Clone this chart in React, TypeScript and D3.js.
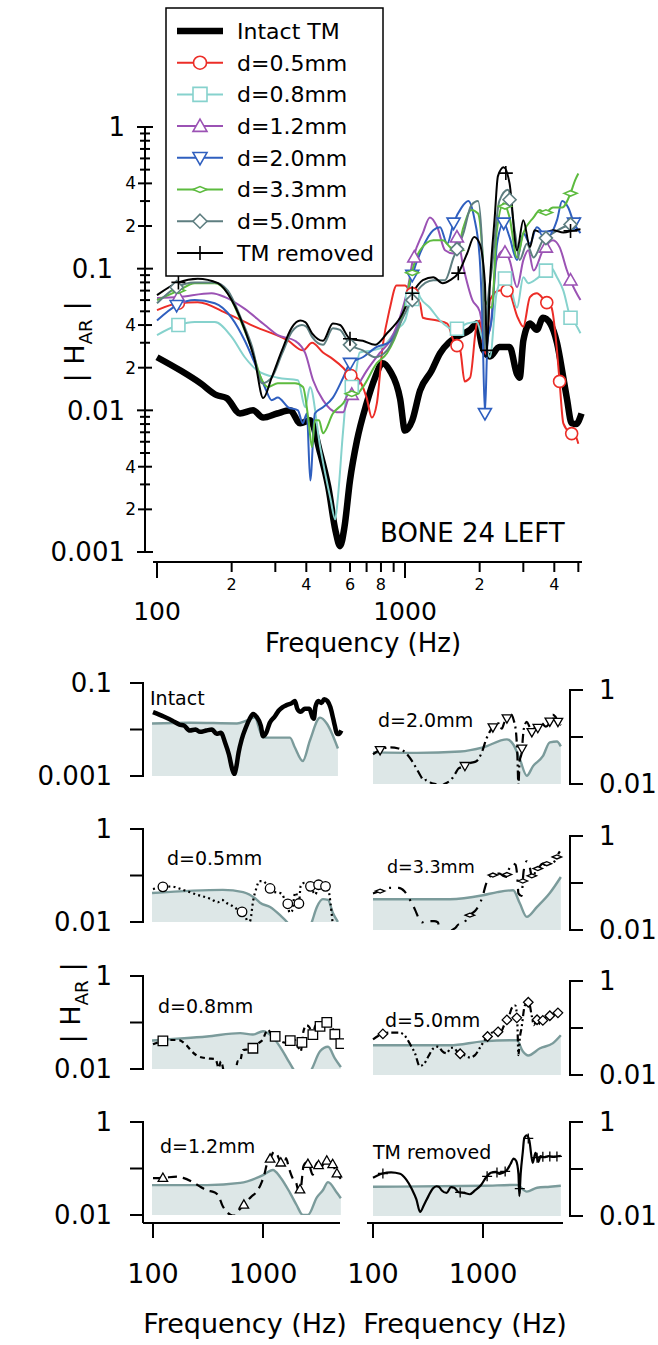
import { useEffect, useRef } from "react";
import * as d3 from "d3";

type Pt = [number, number];

// traces: [frequency (Hz), |H_AR|]
const intactTM: Pt[] = [
  [100, 0.0237], [125, 0.019], [150, 0.0155], [174, 0.0128], [191, 0.0122], [216, 0.0095],
  [244, 0.01], [268, 0.0089], [305, 0.0095], [344, 0.01], [378, 0.0081], [414, 0.0085],
  [455, 0.005], [490, 0.0029], [525, 0.0014], [547, 0.0011], [570, 0.0015], [600, 0.0032],
  [640, 0.0061], [700, 0.0112], [757, 0.017], [812, 0.0215], [870, 0.019], [956, 0.012],
  [1000, 0.0072], [1070, 0.0085], [1150, 0.0138], [1280, 0.019], [1385, 0.0253], [1500, 0.03],
  [1620, 0.033], [1830, 0.037], [1950, 0.041], [2050, 0.028], [2200, 0.024], [2400, 0.028],
  [2640, 0.028], [2830, 0.018], [2900, 0.017], [3000, 0.031], [3190, 0.041], [3400, 0.037],
  [3600, 0.045], [3850, 0.041], [4100, 0.03], [4350, 0.017], [4500, 0.012], [4700, 0.0081],
  [4900, 0.008], [5150, 0.0095],
];

const d05: Pt[] = [
  [100, 0.051], [122, 0.057], [146, 0.058], [193, 0.048], [248, 0.039], [338, 0.031],
  [388, 0.0265], [422, 0.03], [467, 0.0256], [512, 0.023], [563, 0.02], [600, 0.0177],
  [640, 0.017], [700, 0.0123], [735, 0.0089], [770, 0.0112], [812, 0.028], [870, 0.053],
  [925, 0.076], [1000, 0.076], [1046, 0.07], [1150, 0.057], [1180, 0.045], [1350, 0.043],
  [1480, 0.041], [1570, 0.031], [1670, 0.0265], [1740, 0.016], [1830, 0.017], [1950, 0.041],
  [2000, 0.043], [2060, 0.03], [2120, 0.025], [2200, 0.06], [2400, 0.07], [2600, 0.07],
  [2850, 0.045], [3000, 0.039], [3190, 0.063], [3400, 0.067], [3650, 0.06], [3900, 0.053],
  [4100, 0.0265], [4200, 0.016], [4350, 0.0081], [4650, 0.0069], [4850, 0.0067], [5000, 0.0058],
];

const d08: Pt[] = [
  [100, 0.034], [122, 0.04], [142, 0.042], [171, 0.042], [200, 0.033], [226, 0.0237],
  [255, 0.019], [307, 0.017], [370, 0.0163], [396, 0.0105], [414, 0.0146], [455, 0.0055],
  [500, 0.0024], [523, 0.0017], [536, 0.0024], [563, 0.0072], [588, 0.0146], [617, 0.0146],
  [657, 0.0256], [740, 0.0265], [812, 0.028], [925, 0.037], [1000, 0.043], [1046, 0.057],
  [1120, 0.07], [1150, 0.063], [1260, 0.053], [1385, 0.043], [1590, 0.037], [1780, 0.041],
  [1950, 0.042], [2040, 0.033], [2140, 0.0265], [2200, 0.0237], [2340, 0.067], [2500, 0.087],
  [2640, 0.079], [2830, 0.053], [3000, 0.087], [3140, 0.079], [3400, 0.085], [3850, 0.103],
  [4100, 0.087], [4350, 0.07], [4650, 0.045], [4850, 0.041], [5100, 0.035],
];

const d12: Pt[] = [
  [100, 0.062], [122, 0.063], [166, 0.067], [188, 0.063], [226, 0.052], [272, 0.04],
  [307, 0.034], [360, 0.031], [396, 0.0253], [426, 0.0163], [467, 0.0118], [530, 0.0097],
  [563, 0.0097], [588, 0.0118], [640, 0.0146], [700, 0.019], [790, 0.0253], [870, 0.031],
  [980, 0.053], [1030, 0.075], [1070, 0.11], [1180, 0.178], [1260, 0.23], [1350, 0.196],
  [1450, 0.135], [1570, 0.128], [1620, 0.167], [1720, 0.102], [1870, 0.06], [2000, 0.05],
  [2100, 0.033], [2200, 0.037], [2340, 0.115], [2500, 0.135], [2640, 0.115], [2830, 0.074],
  [3000, 0.115], [3140, 0.135], [3300, 0.097], [3600, 0.135], [3950, 0.159], [4200, 0.142],
  [4500, 0.097], [4700, 0.079], [5100, 0.06],
];

const d20: Pt[] = [
  [100, 0.043], [120, 0.055], [142, 0.06], [171, 0.057], [200, 0.045], [226, 0.031],
  [248, 0.0215], [272, 0.0146], [290, 0.0118], [307, 0.0123], [338, 0.0105], [370, 0.01],
  [387, 0.0081], [402, 0.0095], [415, 0.0032], [433, 0.0095], [467, 0.0105], [512, 0.0123],
  [563, 0.017], [600, 0.0215], [676, 0.0237], [770, 0.028], [870, 0.0305], [980, 0.0485],
  [1070, 0.09], [1180, 0.142], [1300, 0.187], [1385, 0.196], [1480, 0.15], [1570, 0.21],
  [1690, 0.27], [1800, 0.3], [1900, 0.23], [2000, 0.12], [2050, 0.045], [2100, 0.0095],
  [2150, 0.03], [2240, 0.045], [2350, 0.15], [2500, 0.21], [2640, 0.167], [2830, 0.115],
  [3000, 0.178], [3190, 0.15], [3400, 0.196], [3730, 0.167], [4100, 0.22], [4300, 0.3],
  [4550, 0.27], [4800, 0.21], [5100, 0.178],
];

const d33: Pt[] = [
  [100, 0.06], [122, 0.07], [142, 0.079], [171, 0.079], [193, 0.067], [220, 0.041],
  [242, 0.0265], [265, 0.0163], [280, 0.0146], [307, 0.0155], [360, 0.0155], [388, 0.0146],
  [407, 0.0089], [422, 0.0055], [433, 0.0085], [450, 0.0085], [467, 0.0069], [512, 0.0095],
  [563, 0.0112], [600, 0.0131], [640, 0.0131], [676, 0.0146], [770, 0.0215], [846, 0.0253],
  [956, 0.041], [1000, 0.055], [1050, 0.085], [1150, 0.135], [1300, 0.159], [1420, 0.159],
  [1520, 0.142], [1620, 0.135], [1720, 0.196], [1850, 0.26], [1970, 0.245], [2050, 0.135],
  [2100, 0.06], [2240, 0.053], [2340, 0.178], [2500, 0.29], [2640, 0.23], [2830, 0.12],
  [3000, 0.178], [3300, 0.23], [3500, 0.26], [3650, 0.245], [3950, 0.27], [4300, 0.27],
  [4650, 0.34], [4850, 0.42], [5000, 0.47],
];

const d50: Pt[] = [
  [100, 0.057], [120, 0.074], [142, 0.08], [171, 0.08], [193, 0.07], [220, 0.043],
  [242, 0.028], [265, 0.0155], [290, 0.017], [319, 0.025], [350, 0.036], [384, 0.04],
  [400, 0.039], [422, 0.033], [467, 0.029], [512, 0.038], [547, 0.037], [600, 0.029],
  [676, 0.0265], [757, 0.0237], [846, 0.0265], [956, 0.041], [1120, 0.07], [1300, 0.083],
  [1450, 0.083], [1570, 0.12], [1720, 0.178], [1850, 0.28], [1970, 0.3], [2050, 0.135],
  [2100, 0.0265], [2160, 0.06], [2240, 0.1], [2400, 0.3], [2600, 0.36], [2780, 0.178],
  [2900, 0.115], [3100, 0.15], [3300, 0.12], [3600, 0.159], [3950, 0.178], [4350, 0.196],
  [4800, 0.21], [5100, 0.23],
];

const tmRemoved: Pt[] = [
  [100, 0.065], [122, 0.08], [146, 0.085], [176, 0.079], [200, 0.06], [226, 0.037],
  [248, 0.0225], [268, 0.0122], [290, 0.017], [319, 0.0265], [350, 0.0385], [378, 0.043],
  [396, 0.042], [422, 0.035], [467, 0.031], [512, 0.041], [547, 0.04], [600, 0.032],
  [676, 0.031], [757, 0.029], [846, 0.035], [956, 0.045], [1070, 0.067], [1180, 0.083],
  [1300, 0.087], [1420, 0.079], [1520, 0.083], [1640, 0.093], [1780, 0.128], [1900, 0.167],
  [2000, 0.15], [2100, 0.079], [2140, 0.0265], [2200, 0.079], [2300, 0.23], [2370, 0.45],
  [2500, 0.52], [2640, 0.4], [2830, 0.135], [3000, 0.22], [3190, 0.142], [3330, 0.187],
  [3600, 0.178], [3950, 0.187], [4350, 0.18], [4800, 0.187], [5100, 0.19],
];

// grey reference curves shaded in the small panels
const refIntact: Pt[] = [
  [98, 0.0135], [217, 0.014], [580, 0.0135], [714, 0.0157], [845, 0.018], [935, 0.0095],
  [1000, 0.0067], [1760, 0.0067], [1950, 0.0041], [2300, 0.0021], [2670, 0.0058],
  [3300, 0.018], [3800, 0.0135], [4800, 0.0039],
];
const refD05: Pt[] = [
  [98, 0.042], [432, 0.049], [660, 0.044], [880, 0.03], [940, 0.026], [1160, 0.021],
  [1430, 0.014], [1650, 0.01], [2000, 0.005], [2400, 0.004], [2780, 0.01], [3090, 0.021],
  [3500, 0.031], [3900, 0.03], [4300, 0.016], [4800, 0.01],
];
const refD08: Pt[] = [
  [98, 0.041], [310, 0.05], [620, 0.059], [810, 0.055], [1000, 0.065], [1210, 0.05],
  [1430, 0.03], [1650, 0.017], [1880, 0.01], [2300, 0.005], [2780, 0.01], [3300, 0.024],
  [3900, 0.03], [4500, 0.017], [5100, 0.011],
];
const refD12: Pt[] = [
  [98, 0.044], [310, 0.044], [620, 0.049], [1000, 0.072], [1230, 0.093], [1430, 0.066],
  [1760, 0.03], [2030, 0.016], [2300, 0.01], [2560, 0.01], [3090, 0.024], [3500, 0.034],
  [3900, 0.051], [4700, 0.03], [5100, 0.023],
];
const refD20: Pt[] = [
  [100, 0.047], [250, 0.046], [620, 0.049], [1000, 0.06], [1650, 0.089], [1880, 0.07],
  [2160, 0.034], [2500, 0.015], [2850, 0.024], [3500, 0.039], [4050, 0.077], [4700, 0.08],
  [5100, 0.063],
];
const refD33: Pt[] = [
  [100, 0.045], [500, 0.045], [1000, 0.055], [1350, 0.064], [1880, 0.07], [2160, 0.037],
  [2500, 0.019], [3100, 0.031], [4050, 0.061], [5100, 0.134],
];
const refD50: Pt[] = [
  [100, 0.043], [500, 0.043], [1000, 0.052], [2030, 0.055], [2300, 0.032], [2580, 0.026],
  [3300, 0.037], [4300, 0.047], [5100, 0.07],
];
const refTM: Pt[] = [
  [100, 0.042], [1000, 0.044], [2030, 0.046], [2500, 0.033], [3100, 0.04], [4050, 0.042],
  [5100, 0.044],
];

// frequencies that carry a marker, main plot and small panels
const d05MarksTop = [122, 605, 1070, 1620, 2580, 3730, 4200, 4700];
const d08MarksTop = [122, 610, 1070, 1620, 2530, 3700, 4650];
const d12MarksTop = [122, 610, 1090, 1620, 2530, 3700, 4650];
const d20MarksTop = [120, 600, 1070, 1570, 2100, 2500, 3700, 4800];
const d33MarksTop = [122, 610, 1070, 1620, 2530, 3700, 4650];
const d50MarksTop = [120, 600, 1070, 1620, 2640, 3700, 4650];
const tmMarksTop = [122, 600, 1070, 1640, 2140, 2550, 4650];

const d05MarksSmall = [123, 645, 1160, 1680, 2120, 2700, 3200, 3700, 4400];
const d08MarksSmall = [123, 810, 1290, 1770, 2260, 2840, 3300, 3800, 4500, 5100];
const d12MarksSmall = [123, 670, 1160, 1450, 2170, 2560, 3200, 3800, 4300, 4700];
const d20MarksSmall = [116, 685, 1230, 1650, 2260, 2780, 3150, 4050, 4800];
const d33MarksSmall = [116, 760, 1230, 1650, 2300, 2780, 3150, 3800, 4700];
const d50MarksSmall = [123, 620, 1100, 1370, 1650, 2030, 2580, 3100, 3500, 4050, 4800];
const tmMarksSmall = [123, 620, 1090, 1340, 1590, 2160, 2580, 3100, 3500, 4050, 4700];

const seriesNames = ["Intact TM", "d=0.5mm", "d=0.8mm", "d=1.2mm", "d=2.0mm", "d=3.3mm", "d=5.0mm", "TM removed"];
const panelLabels = ["Intact", "d=0.5mm", "d=0.8mm", "d=1.2mm", "d=2.0mm", "d=3.3mm", "d=5.0mm", "TM removed"];

const topYMinorLabels = [0.002, 0.004, 0.02, 0.04, 0.2, 0.4];
const topYMajorLabels = ["0.001", "0.01", "0.1", "1"];
const topXMinorLabels = [200, 400, 600, 800, 2000, 4000];
const topXMajorLabels = [100, 1000];

const FONT = "'DejaVu Sans', Verdana, sans-serif";

function valueAt(data: Pt[], f: number) {
  const lf = Math.log10(f);
  for (let i = 0; i < data.length - 1; i++) {
    const [f0, v0] = data[i];
    const [f1, v1] = data[i + 1];
    if (f >= f0 && f <= f1) {
      const t = (lf - Math.log10(f0)) / (Math.log10(f1) - Math.log10(f0));
      return Math.pow(10, Math.log10(v0) + t * (Math.log10(v1) - Math.log10(v0)));
    }
  }
  return f < data[0][0] ? data[0][1] : data[data.length - 1][1];
}

function marker(g: any, kind: string, cx: number, cy: number, s: number, stroke: string, sw: number) {
  const h = s / 2;
  if (kind === "circle") {
    g.append("circle").attr("cx", cx).attr("cy", cy).attr("r", h)
      .attr("fill", "#fff").attr("stroke", stroke).attr("stroke-width", sw);
    return;
  }
  let d = "";
  if (kind === "square") d = `M${cx - h},${cy - h}h${s}v${s}h${-s}Z`;
  if (kind === "up") d = `M${cx},${cy - h}L${cx + h},${cy + h * 0.75}L${cx - h},${cy + h * 0.75}Z`;
  if (kind === "down") d = `M${cx},${cy + h}L${cx + h},${cy - h * 0.75}L${cx - h},${cy - h * 0.75}Z`;
  if (kind === "diamond") d = `M${cx},${cy - h}L${cx + h},${cy}L${cx},${cy + h}L${cx - h},${cy}Z`;
  if (kind === "flat") d = `M${cx - h},${cy}L${cx},${cy - h * 0.42}L${cx + h},${cy}L${cx},${cy + h * 0.42}Z`;
  if (kind === "plus") d = `M${cx - h},${cy}H${cx + h}M${cx},${cy - h}V${cy + h}`;
  g.append("path").attr("d", d)
    .attr("fill", kind === "plus" ? "none" : "#fff")
    .attr("stroke", stroke).attr("stroke-width", sw);
}

export default function App() {
  const ref = useRef<HTMLDivElement>(null);

  useEffect(() => {
    const root = d3.select(ref.current);
    root.selectAll("*").remove();
    const svg = root
      .append("svg")
      .attr("width", 658)
      .attr("height", 1345)
      .style("position", "absolute")
      .style("left", "0px")
      .style("top", "0px")
      .style("background", "#fff")
      .style("font-family", FONT);

    const series = [
      { data: intactTM, color: "#000", width: 6.5, mark: "", top: [], small: [], dash: null, ref: refIntact },
      { data: d05, color: "#ec2d27", width: 2, mark: "circle", top: d05MarksTop, small: d05MarksSmall, dash: "2,3.2", ref: refD05 },
      { data: d08, color: "#86d2cd", width: 2, mark: "square", top: d08MarksTop, small: d08MarksSmall, dash: "5,4", ref: refD08 },
      { data: d12, color: "#9b52b4", width: 2, mark: "up", top: d12MarksTop, small: d12MarksSmall, dash: "9,6", ref: refD12 },
      { data: d20, color: "#2f5fbf", width: 2, mark: "down", top: d20MarksTop, small: d20MarksSmall, dash: "9,4,2,4", ref: refD20 },
      { data: d33, color: "#5dbb3f", width: 2, mark: "flat", top: d33MarksTop, small: d33MarksSmall, dash: "10,7,2,7", ref: refD33 },
      { data: d50, color: "#5e7e80", width: 2, mark: "diamond", top: d50MarksTop, small: d50MarksSmall, dash: "7,3,2,3,2,3", ref: refD50 },
      { data: tmRemoved, color: "#000", width: 2, mark: "plus", top: tmMarksTop, small: tmMarksSmall, dash: null, ref: refTM },
    ];

    // ---------- main plot ----------
    const x = d3.scaleLog().domain([100, 1000]).range([157, 405]);
    const y = d3.scaleLog().domain([0.001, 1]).range([552, 127]);
    const main = svg.append("g");

    main.append("clipPath").attr("id", "mainclip")
      .append("rect").attr("x", 146).attr("y", 118).attr("width", 445).attr("height", 442);

    const line = d3.line<Pt>().x((d) => x(d[0])).y((d) => y(d[1])).curve(d3.curveMonotoneX);
    const traces = main.append("g").attr("clip-path", "url(#mainclip)");
    series.forEach((s) => {
      traces.append("path").datum(s.data).attr("d", line)
        .attr("fill", "none").attr("stroke", s.color).attr("stroke-width", s.width)
        .attr("stroke-linejoin", "round");
    });
    series.forEach((s) => {
      s.top.forEach((f: number) => {
        const sz = s.mark === "circle" ? 12 : s.mark === "plus" ? 14 : 13;
        marker(traces, s.mark, x(f), y(valueAt(s.data, f)), sz, s.color, 1.6);
      });
    });

    // y axis
    main.append("line").attr("x1", 145).attr("x2", 145).attr("y1", y(1) - 1).attr("y2", y(0.001) + 1)
      .attr("stroke", "#000").attr("stroke-width", 2);
    y.ticks().forEach((v) => {
      const m = Math.round(v / Math.pow(10, Math.floor(Math.log10(v) + 1e-9)));
      const len = m === 1 ? 8 : m === 2 || m === 4 ? 7 : 5;
      main.append("line").attr("x1", 145 - len).attr("x2", 145 + len).attr("y1", y(v)).attr("y2", y(v))
        .attr("stroke", "#000").attr("stroke-width", 2);
    });
    topYMajorLabels.forEach((t) => {
      main.append("text").attr("x", t === "0.1" ? 113 : 125).attr("y", y(+t)).attr("dy", "0.36em")
        .attr("text-anchor", "end").attr("font-size", 26).text(t);
    });
    topYMinorLabels.forEach((v) => {
      const m = Math.round(v / Math.pow(10, Math.floor(Math.log10(v) + 1e-9)));
      main.append("text").attr("x", 136).attr("y", y(v)).attr("dy", "0.36em")
        .attr("text-anchor", "end").attr("font-size", 17).text(m);
    });

    // x axis
    main.append("line").attr("x1", 153).attr("x2", 582).attr("y1", 562).attr("y2", 562)
      .attr("stroke", "#000").attr("stroke-width", 2);
    d3.scaleLog().domain([100, 5000]).ticks().forEach((f) => {
      const major = f === 100 || f === 1000;
      main.append("line").attr("x1", x(f)).attr("x2", x(f)).attr("y1", 562).attr("y2", 562 + (major ? 16 : 10))
        .attr("stroke", "#000").attr("stroke-width", 2);
    });
    topXMinorLabels.forEach((f) => {
      const m = Math.round(f / Math.pow(10, Math.floor(Math.log10(f) + 1e-9)));
      main.append("text").attr("x", x(f)).attr("y", 590).attr("text-anchor", "middle")
        .attr("font-size", 16).text(m);
    });
    topXMajorLabels.forEach((f) => {
      main.append("text").attr("x", x(f)).attr("y", 620).attr("text-anchor", "middle")
        .attr("font-size", 25).text(f);
    });
    main.append("text").attr("x", 363).attr("y", 652).attr("text-anchor", "middle")
      .attr("font-size", 26).text("Frequency (Hz)");

    const yTitle = (g: any, cx: number, cy: number, size: number) => {
      const t = g.append("text").attr("transform", `translate(${cx},${cy}) rotate(-90)`)
        .attr("text-anchor", "middle").attr("font-size", size);
      t.append("tspan").text("| H");
      t.append("tspan").attr("font-size", size * 0.68).attr("dy", size * 0.3).text("AR");
      t.append("tspan").attr("dy", -size * 0.3).text(" |");
    };
    yTitle(main, 84, 342, 27);

    main.append("text").attr("x", 380).attr("y", 542).attr("font-size", 26).text("BONE 24 LEFT");

    // legend
    const lg = main.append("g");
    lg.append("rect").attr("x", 166).attr("y", 8).attr("width", 217).attr("height", 268)
      .attr("fill", "#fff").attr("stroke", "#000").attr("stroke-width", 1.5);
    series.forEach((s, i) => {
      const ly = 31 + i * 31.7;
      lg.append("line").attr("x1", 177).attr("x2", 223).attr("y1", ly).attr("y2", ly)
        .attr("stroke", s.color).attr("stroke-width", s.width);
      if (s.mark) marker(lg, s.mark, 200, ly, s.mark === "circle" ? 13 : 14, s.color, 1.6);
      lg.append("text").attr("x", 237).attr("y", ly).attr("dy", "0.36em")
        .attr("font-size", 22).text(seriesNames[i]);
    });

    // ---------- small panels ----------
    const leftTops = [683, 829, 976, 1122];
    const rightTops = [690, 836, 981, 1122];
    const labelPos: Pt[] = [[150, 705], [167, 865], [158, 1013], [160, 1153], [378, 727], [387, 873], [385, 1027], [373, 1159]];
    const grey = "#7b9b9b";
    const fillCol = "#dde7e7";

    series.forEach((s, i) => {
      const right = i >= 4;
      const row = i % 4;
      const top = right ? rightTops[row] : leftTops[row];
      const h = right ? 94 : 93;
      const bottom = top + h;
      const dom = i === 0 ? [0.001, 0.1] : [0.01, 1];
      const px = d3.scaleLog().domain([100, 1000]).range(right ? [373, 483] : [153, 263]);
      const py = d3.scaleLog().domain(dom).range([bottom, top]);
      const axisX = right ? 570 : 143;
      const g = svg.append("g");
      const cid = `pclip${i}`;
      g.append("clipPath").attr("id", cid).append("rect")
        .attr("x", right ? 366 : 144).attr("y", top - 5).attr("width", 200).attr("height", h + 5);
      const body = g.append("g").attr("clip-path", `url(#${cid})`);

      const area = d3.area<Pt>().x((d) => px(d[0])).y0(bottom).y1((d) => py(d[1])).curve(d3.curveMonotoneX);
      body.append("path").datum(s.ref).attr("d", area).attr("fill", fillCol);
      const rl = d3.line<Pt>().x((d) => px(d[0])).y((d) => py(d[1])).curve(d3.curveMonotoneX);
      body.append("path").datum(s.ref).attr("d", rl).attr("fill", "none")
        .attr("stroke", grey).attr("stroke-width", 2.4);
      body.append("path").datum(s.data).attr("d", rl).attr("fill", "none")
        .attr("stroke", "#000").attr("stroke-width", i === 0 ? 4.5 : 2.2)
        .attr("stroke-dasharray", s.dash).attr("stroke-linejoin", "round");
      s.small.forEach((f: number) => {
        const v = valueAt(s.data, f);
        if (v >= dom[0] && v <= dom[1]) marker(body, s.mark, px(f), py(v), s.mark === "plus" ? 10 : 9.5, "#000", 1.3);
      });

      // y axis
      const yEnd = !right && row === 3 ? 1223 : bottom + 1;
      g.append("line").attr("x1", axisX).attr("x2", axisX).attr("y1", top - 1).attr("y2", yEnd)
        .attr("stroke", "#000").attr("stroke-width", 2);
      const mid = Math.sqrt(dom[0] * dom[1]);
      [dom[1], mid, dom[0]].forEach((v) => {
        g.append("line").attr("x1", axisX).attr("x2", right ? axisX + 13 : axisX - 13)
          .attr("y1", py(v)).attr("y2", py(v)).attr("stroke", "#000").attr("stroke-width", 2);
      });
      const fmt = (v: number) => (v >= 1 ? "1" : v >= 0.1 ? "0.1" : v >= 0.01 ? "0.01" : "0.001");
      [dom[1], dom[0]].forEach((v) => {
        g.append("text").attr("x", right ? 599 : 112).attr("y", py(v)).attr("dy", "0.36em")
          .attr("text-anchor", right ? "start" : "end").attr("font-size", 26).text(fmt(v));
      });

      g.append("text").attr("x", labelPos[i][0]).attr("y", labelPos[i][1])
        .attr("font-size", i === 5 ? 17.5 : 19).text(panelLabels[i]);

      if (row === 3) {
        g.append("line").attr("x1", right ? 367 : 143).attr("x2", right ? 563 : 340)
          .attr("y1", 1223).attr("y2", 1223).attr("stroke", "#000").attr("stroke-width", 2);
        [100, 1000].forEach((f) => {
          g.append("line").attr("x1", px(f)).attr("x2", px(f)).attr("y1", 1223).attr("y2", 1238)
            .attr("stroke", "#000").attr("stroke-width", 2);
          g.append("text").attr("x", px(f)).attr("y", 1283).attr("text-anchor", "middle")
            .attr("font-size", 27).text(f);
        });
        g.append("text").attr("x", right ? 465 : 245).attr("y", 1333).attr("text-anchor", "middle")
          .attr("font-size", 27).text("Frequency (Hz)");
      }
    });

    yTitle(svg, 80, 1003, 27);

    return () => {
      root.selectAll("*").remove();
    };
  }, []);

  return <div ref={ref} />;
}
